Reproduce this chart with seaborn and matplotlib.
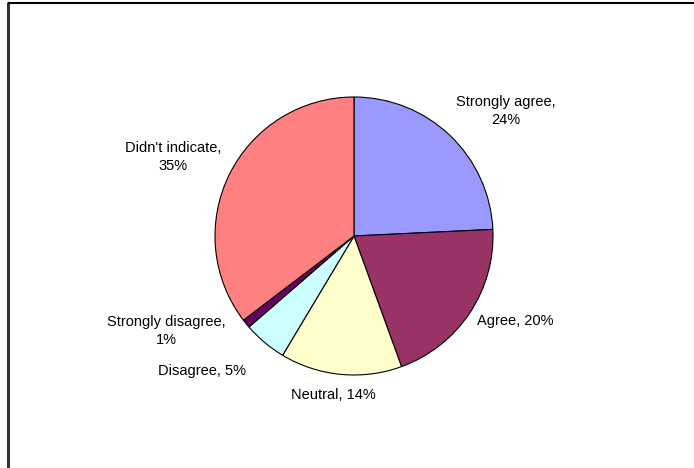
import matplotlib
matplotlib.use("Agg")
import matplotlib.pyplot as plt
import seaborn as sns

# Survey responses (percent of respondents)
categories = ["Strongly agree", "Agree", "Neutral", "Disagree",
              "Strongly disagree", "Didn't indicate"]
values = [24, 20, 14, 5, 1, 35]
slice_colors = ["#9999FF", "#993366", "#FFFFCC", "#CCFFFF", "#660066", "#FF8080"]
label_texts = ["Strongly agree,\n24%", "Agree, 20%", "Neutral, 14%",
               "Disagree, 5%", "Strongly disagree,\n1%", "Didn't indicate,\n35%"]

# Label anchor points in canvas pixels (x from left, y from top)
label_pos_px = [(506, 111), (515, 321), (333, 395), (202, 371), (166, 331), (173, 157)]

sns.set_theme(style="white")
plt.rcParams["font.family"] = ["Liberation Sans", "DejaVu Sans"]

W, H = 694, 468
fig = plt.figure(figsize=(W / 100, H / 100), dpi=100)
ax = fig.add_axes([0, 0, 1, 1])

cx, cy, r = 354, H - 236, 139
wedges, _ = ax.pie(values, colors=slice_colors, startangle=90, counterclock=False,
                   center=(cx, cy), radius=r, frame=True,
                   wedgeprops=dict(edgecolor="black", linewidth=0.8))
ax.set_xlim(0, W)
ax.set_ylim(0, H)
ax.set_aspect("equal")
ax.axis("off")

for txt, (px, py) in zip(label_texts, label_pos_px):
    ax.text(px, H - py, txt, ha="center", va="center", fontsize=10.5,
            color="black", multialignment="center", linespacing=1.3)

# Partial chart-area frame: left and top edges
ax.plot([8, 8], [H - 2, 0], color="#333333", linewidth=2.2, solid_capstyle="butt",
        clip_on=False)
ax.plot([8, W], [H - 2.5, H - 2.5], color="black", linewidth=1.5,
        solid_capstyle="butt", clip_on=False)

fig.savefig("out.png", dpi=100)
